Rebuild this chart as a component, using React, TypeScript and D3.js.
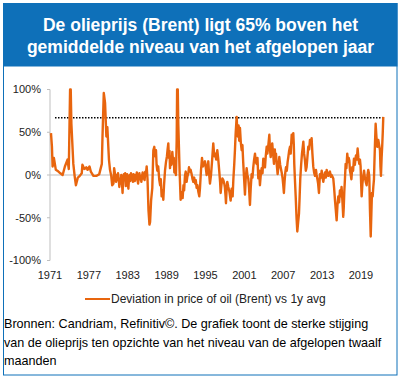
import React from "react";
import * as d3 from "d3";

const titleLines = ["De olieprijs (Brent) ligt 65% boven het", "gemiddelde niveau van het afgelopen jaar"];
const legendLabel = "Deviation in price of oil (Brent) vs 1y avg";
const footnote = [
  "Bronnen: Candriam, Refinitiv©. De grafiek toont de sterke stijging",
  "van de olieprijs ten opzichte van het niveau van de afgelopen twaalf",
  "maanden",
];
const yTicks = [100, 50, 0, -50, -100];
const xTicks = [1971, 1977, 1983, 1989, 1995, 2001, 2007, 2013, 2019];
const refLevel = 67;

const years = [
  1971.15, 1971.3, 1971.4, 1971.6, 1971.9, 1972.3, 1972.6, 1972.95, 1973.3, 1973.7, 1973.9,
  1974.1, 1974.2, 1974.3, 1974.6, 1974.8, 1975.0, 1975.3, 1975.6, 1975.9, 1976.0, 1976.3,
  1976.6, 1976.8, 1977.1, 1977.3, 1977.7, 1978.2, 1978.6, 1979.0, 1979.1, 1979.3, 1979.5,
  1979.7, 1979.85, 1980.1, 1980.26, 1980.45, 1980.6, 1980.8, 1980.9,
  1981.0, 1981.1, 1981.2, 1981.3, 1981.4, 1981.5, 1981.6, 1981.7, 1981.8, 1981.9,
  1982.0, 1982.1, 1982.2, 1982.3, 1982.4, 1982.5, 1982.6, 1982.7, 1982.8, 1982.9,
  1983.0, 1983.1, 1983.2, 1983.3, 1983.4, 1983.5, 1983.6, 1983.7, 1983.8, 1983.9,
  1984.0, 1984.1, 1984.2, 1984.3, 1984.4, 1984.5, 1984.6, 1984.7, 1984.8, 1984.9,
  1985.0, 1985.1, 1985.2, 1985.3, 1985.4, 1985.5, 1985.6, 1985.7, 1985.8, 1985.92,
  1986.05, 1986.2, 1986.35, 1986.45, 1986.6, 1986.79, 1986.95,
  1987.1, 1987.2, 1987.36, 1987.45, 1987.56, 1987.7, 1987.87, 1988.0, 1988.1, 1988.23,
  1988.35, 1988.49, 1988.6, 1988.75, 1988.9, 1989.05, 1989.15, 1989.26, 1989.35, 1989.45,
  1989.52, 1989.65, 1989.75, 1989.88, 1990.0, 1990.1, 1990.19, 1990.3, 1990.44, 1990.55,
  1990.62, 1990.72, 1990.8, 1990.9, 1991.0, 1991.16, 1991.3, 1991.47, 1991.6, 1991.7,
  1991.83, 1991.95, 1992.09, 1992.2, 1992.35, 1992.45, 1992.55, 1992.7, 1992.86, 1993.0,
  1993.12, 1993.25, 1993.4, 1993.5, 1993.63, 1993.75, 1993.9, 1994.04, 1994.15, 1994.3,
  1994.46, 1994.6, 1994.75, 1994.92, 1995.05, 1995.18, 1995.3, 1995.43, 1995.55, 1995.69,
  1995.85, 1996.0, 1996.2, 1996.35, 1996.51, 1996.65, 1996.82, 1996.95, 1997.13, 1997.25,
  1997.34, 1997.45, 1997.6, 1997.75, 1997.9, 1998.0, 1998.1, 1998.16, 1998.25, 1998.36,
  1998.52, 1998.7, 1998.88, 1999.04, 1999.19, 1999.3, 1999.44, 1999.55, 1999.65, 1999.81,
  1999.9, 2000.0, 2000.1, 2000.2,
  2000.32, 2000.45, 2000.58, 2000.7, 2000.82, 2000.94, 2001.09, 2001.2, 2001.35, 2001.47,
  2001.6, 2001.72, 2001.86, 2001.98, 2002.12, 2002.25, 2002.37, 2002.5, 2002.64, 2002.77,
  2002.9, 2003.02, 2003.15, 2003.28, 2003.4, 2003.53, 2003.67, 2003.8, 2003.92, 2004.05,
  2004.18, 2004.3, 2004.44, 2004.55, 2004.7, 2004.85, 2004.95, 2005.06, 2005.18, 2005.3,
  2005.43, 2005.57, 2005.7, 2005.8, 2005.88, 2006.0, 2006.13, 2006.26, 2006.39, 2006.52,
  2006.65, 2006.78, 2006.9, 2007.0, 2007.1, 2007.2, 2007.32, 2007.42, 2007.55, 2007.67,
  2007.78, 2007.9, 2008.04, 2008.15, 2008.3, 2008.42, 2008.55, 2008.63, 2008.7, 2008.8,
  2008.92, 2009.05, 2009.17, 2009.3, 2009.43, 2009.53, 2009.63, 2009.76, 2009.89, 2010.0,
  2010.1, 2010.22, 2010.35, 2010.48, 2010.6, 2010.72, 2010.86, 2011.0, 2011.12, 2011.25,
  2011.38, 2011.5, 2011.63, 2011.76, 2011.9, 2012.05, 2012.15, 2012.25, 2012.38, 2012.51,
  2012.6, 2012.67, 2012.8, 2012.93, 2013.05, 2013.18, 2013.3, 2013.44, 2013.57, 2013.7,
  2013.82, 2013.95, 2014.08, 2014.21, 2014.34, 2014.47, 2014.6, 2014.72, 2014.85, 2014.98,
  2015.1, 2015.24, 2015.37, 2015.5, 2015.62, 2015.75, 2015.88, 2016.0, 2016.13, 2016.26,
  2016.34, 2016.42, 2016.52, 2016.63, 2016.75, 2016.88, 2017.0, 2017.1, 2017.2, 2017.3,
  2017.4, 2017.52, 2017.65, 2017.78, 2017.91, 2018.05, 2018.22, 2018.35, 2018.48, 2018.6,
  2018.73, 2018.84, 2018.94, 2019.02, 2019.1, 2019.22, 2019.35, 2019.47, 2019.6, 2019.73,
  2019.87, 2020.0, 2020.12, 2020.2, 2020.28, 2020.38, 2020.5, 2020.6, 2020.69, 2020.8,
  2020.9, 2021.0, 2021.05, 2021.15, 2021.26, 2021.38, 2021.52, 2021.6, 2021.67, 2021.8,
  2021.93, 2022.0, 2022.08, 2022.18, 2022.28, 2022.36, 2022.44,
];
const values = [
  49, 33, 10, 20, 6, 4, 2, 0, 10, 18, 7,
  100, 100, 60, 13, -1, -12, -3, -1, 2, 12, 7,
  9, 6, 10, 4, -1, -1, 1, 13, 44, 96, 84,
  45, 56, 18, 6, -1, -12, -10, 8,
  3, -3, -8, 0, -6, 2, -4, -14, -5, -10,
  0, -8, -21, -4, 1, -6, 2, -13, -4, 1,
  -9, -16, -3, 0, -7, 2, -5, 0, -8, 1,
  -3, -7, 0, -4, 3, -6, -10, -2, 2, -5,
  -1, -8, -2, 3, -4, 0, -6, 4, 1, 10,
  -5, -41, -58, -55, -30, -15, 29,
  33, 22, 29, 12, 5, 10, -6, -12, -5, -25,
  -18, -29, -12, 5, 15, 22, 30, 37, 20, 28,
  8, 18, 12, 27, 15, 20, 3, 8, 0, 40,
  100, 100, 60, 33, 5, -29, -20, -27, -12, -18,
  -1, 4, -8, -2, 2, 9, 4, 6, 1, -5,
  -8, -3, -10, -6, -15, -12, -20, -25, -15, 5,
  20, 10, 12, 16, 8, 0, 10, 16, 2, -10,
  0, 15, 37, 22, 25, 18, 29, 20, 4, -8,
  -21, -12, -4, -6, -10, -15, -25, -33, -18, -8,
  -14, -20, -30, -16, -25, -5, 13, 30, 48, 68,
  52, 45, 58, 40,
  55, 38, 29, 35, 15, -2, -23, -5, 8, 0,
  -4, -15, -35, -15, 1, -3, 9, 18, 25, 15,
  13, 20, -4, 5, -12, 0, 8, 2, 19, 12,
  9, 22, 33, 25, 35, 47, 30, 21, 28, 37,
  25, 13, 30, 18, 25, 12, 1, 10, 21, 12,
  7, 2, -4, -12, -21, -8, 3, 9, 5, 15,
  21, 28, 33, 25, 47, 38, 49, 35, 13, -5,
  -25, -50, -66, -55, -45, -25, -4, 12, 25, 32,
  39, 25, 17, 5, 9, 20, 33, 30, 41, 36,
  43, 25, 10, 3, -1, 6, 0, -4, -10, -21,
  -8, 1, -3, 5, -2, -8, -2, 3, -3, 6,
  2, -1, 2, 4, -2, 0, -2, -4, -15, -29,
  -40, -53, -35, -25, -32, -18, -25, -14, -30, -49,
  -38, -20, -5, 13, 8, 25, 15, 20, 17, 5,
  1, -5, 9, 5, 19, 12, 23, 18, 31, 20,
  13, 18, 10, -10, -25, -10, -1, 5, -3, -8,
  -12, 0, 6, 3, -2, -40, -72, -45, -21, -25,
  -14, -5, 9, 35, 60, 45, 33, 38, 41, 35,
  29, 10, -1, 20, 35, 50, 68,
];

const W = 402;
const H = 380;
const orange = "#E8650E";
const blue = "#0E70B9";
const font = "Arial, 'Liberation Sans', sans-serif";

export default function App() {
  const x = d3.scaleLinear().domain([1971, 2019]).range([50, 361]);
  const y = d3.scaleLinear().domain([-100, 100]).range([260.5, 89.5]);
  const data = years.map((yr, i) => ({ yr, v: values[i] }));
  const line = d3
    .line<{ yr: number; v: number }>()
    .x((d) => x(d.yr))
    .y((d) => y(Math.max(-100, Math.min(100, d.v))));
  const xEnd = x(2022.44);

  return (
    <div style={{ position: "absolute", left: 0, top: 0 }}>
      <svg width={W} height={H} style={{ display: "block", fontFamily: font }}>
        <rect x={0} y={0} width={W} height={H} fill="#fff" />
        <rect x={3.5} y={3.5} width={393.5} height={371.5} fill="#fff" stroke={blue} strokeWidth={1} />
        <rect x={3} y={3} width={394.5} height={63.5} fill={blue} />
        {titleLines.map((t, i) => (
          <text
            key={i}
            x={200.5}
            y={31 + i * 22}
            textAnchor="middle"
            fill="#fff"
            fontWeight="bold"
            fontSize={17.5}
          >
            {t}
          </text>
        ))}

        <line x1={x(1971)} x2={x(1971)} y1={y(100)} y2={y(-100)} stroke="#BFBFBF" strokeWidth={1} />
        {yTicks.map((t) => (
          <g key={t}>
            <line x1={x(1971) - 3} x2={x(1971)} y1={y(t)} y2={y(t)} stroke="#BFBFBF" />
            <text x={41} y={y(t)} dy="0.35em" textAnchor="end" fontSize={11} fill="#222">
              {t + "%"}
            </text>
          </g>
        ))}
        <line x1={x(1971)} x2={xEnd + 1} y1={y(0)} y2={y(0)} stroke="#BFBFBF" strokeWidth={1} />
        {xTicks.map((t) => (
          <text key={t} x={x(t)} y={279} textAnchor="middle" fontSize={11} fill="#222">
            {t}
          </text>
        ))}

        <line
          x1={55}
          x2={xEnd}
          y1={y(refLevel)}
          y2={y(refLevel)}
          stroke="#000"
          strokeWidth={1.5}
          strokeDasharray="1.5,1.5"
        />
        <path d={line(data) || ""} fill="none" stroke={orange} strokeWidth={2.4} strokeLinejoin="round" />

        <line x1={85} x2={110} y1={299} y2={299} stroke={orange} strokeWidth={2} />
        <text x={111} y={299} dy="0.35em" fontSize={12} fill="#222">
          {legendLabel}
        </text>

        {footnote.map((t, i) => (
          <text key={i} x={4} y={328 + i * 18.5} fontSize={12.6} fill="#000">
            {t}
          </text>
        ))}
      </svg>
    </div>
  );
}
